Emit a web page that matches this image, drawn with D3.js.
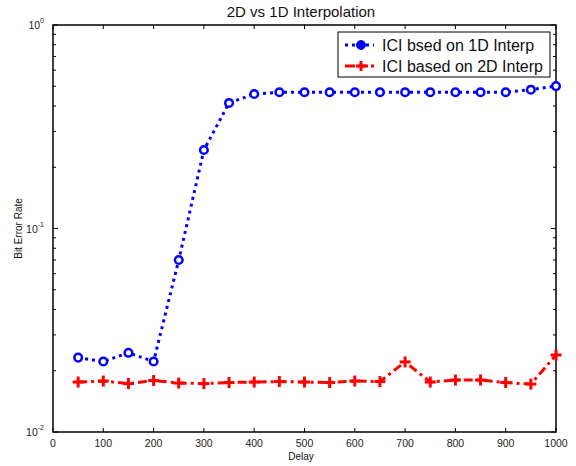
<!DOCTYPE html>
<html>
<head>
<meta charset="utf-8">
<script src="https://cdn.jsdelivr.net/npm/d3@7"></script>
<style>
  body { margin: 0; background: #fff; }
  svg { font-family: "Liberation Sans", Arial, sans-serif; }
</style>
</head>
<body>
<svg id="chart"></svg>
<script>
const delays = [50, 100, 150, 200, 250, 300, 350, 400, 450, 500, 550, 600, 650, 700, 750, 800, 850, 900, 950, 1000];
const ber1D = [0.0232, 0.0222, 0.0245, 0.0222, 0.0700, 0.243, 0.414, 0.458, 0.467, 0.467, 0.467, 0.467, 0.467, 0.467, 0.467, 0.467, 0.467, 0.467, 0.481, 0.501];
const ber2D = [0.0176, 0.0178, 0.0173, 0.0179, 0.0174, 0.0173, 0.0175, 0.0176, 0.0177, 0.0176, 0.0175, 0.0178, 0.0177, 0.0221, 0.0176, 0.0180, 0.0180, 0.0175, 0.0172, 0.0239];
const xTicks = [0, 100, 200, 300, 400, 500, 600, 700, 800, 900, 1000];
const yDecades = [-2, -1, 0];
const legendLabels = ["ICI bsed on 1D Interp", "ICI based on 2D Interp"];

const W = 576, H = 466;
const margin = { top: 25, right: 20, bottom: 34, left: 53 };
const width = W - margin.left - margin.right;
const height = H - margin.top - margin.bottom;

const svg = d3.select("#chart").attr("width", W).attr("height", H);
const g = svg.append("g").attr("transform", `translate(${margin.left},${margin.top})`);

const x = d3.scaleLinear().domain([0, 1000]).range([0, width]);
const y = d3.scaleLog().domain([0.01, 1]).range([height, 0]);

// minor log ticks
const minor = [];
[0.01, 0.1].forEach(base => {
  for (let k = 2; k <= 9; k++) minor.push(base * k);
});

// axes box
g.append("rect")
  .attr("width", width).attr("height", height)
  .attr("fill", "none").attr("stroke", "#000").attr("stroke-width", 1.5);

// x ticks (bottom and top, inward)
xTicks.forEach(t => {
  g.append("line").attr("x1", x(t)).attr("x2", x(t)).attr("y1", height).attr("y2", height - 4).attr("stroke", "#000");
  g.append("line").attr("x1", x(t)).attr("x2", x(t)).attr("y1", 0).attr("y2", 4).attr("stroke", "#000");
  g.append("text").attr("x", x(t)).attr("y", height + 15)
    .attr("text-anchor", "middle").attr("font-size", 10.5).attr("fill", "#222").text(t);
});

// y ticks
yDecades.forEach(p => {
  const v = Math.pow(10, p);
  g.append("line").attr("x1", 0).attr("x2", 5).attr("y1", y(v)).attr("y2", y(v)).attr("stroke", "#000");
  g.append("line").attr("x1", width).attr("x2", width - 5).attr("y1", y(v)).attr("y2", y(v)).attr("stroke", "#000");
  const t = g.append("text").attr("x", -9).attr("y", y(v) + 4)
    .attr("text-anchor", "end").attr("font-size", 10.5).attr("fill", "#222");
  t.append("tspan").text("10");
  t.append("tspan").attr("font-size", 7).attr("dy", -6).text(p);
});
minor.forEach(v => {
  g.append("line").attr("x1", 0).attr("x2", 3).attr("y1", y(v)).attr("y2", y(v)).attr("stroke", "#000");
  g.append("line").attr("x1", width).attr("x2", width - 3).attr("y1", y(v)).attr("y2", y(v)).attr("stroke", "#000");
});

// labels
svg.append("text").attr("x", 301).attr("y", 17)
  .attr("text-anchor", "middle").attr("font-size", 15).attr("fill", "#111").text("2D vs 1D Interpolation");
svg.append("text").attr("x", 301).attr("y", 460)
  .attr("text-anchor", "middle").attr("font-size", 10).attr("fill", "#111").text("Delay");
svg.append("text").attr("transform", `translate(22,${margin.top + height / 2}) rotate(-90)`)
  .attr("text-anchor", "middle").attr("font-size", 10).attr("fill", "#111").text("Bit Error Rate");

const line = d3.line().x(d => x(d[0])).y(d => y(d[1]));
const data1 = delays.map((d, i) => [d, ber1D[i]]);
const data2 = delays.map((d, i) => [d, ber2D[i]]);

const blue = "#0000ff", red = "#ff0000";

g.append("path").datum(data2).attr("d", line).attr("fill", "none")
  .attr("stroke", red).attr("stroke-width", 3).attr("stroke-dasharray", "9,4,3,4");
g.append("path").datum(data1).attr("d", line).attr("fill", "none")
  .attr("stroke", blue).attr("stroke-width", 3).attr("stroke-dasharray", "3,4");

const plus = (sel, cx, cy, s) => {
  sel.append("line").attr("x1", cx - s).attr("x2", cx + s).attr("y1", cy).attr("y2", cy).attr("stroke", red).attr("stroke-width", 3);
  sel.append("line").attr("x1", cx).attr("x2", cx).attr("y1", cy - s).attr("y2", cy + s).attr("stroke", red).attr("stroke-width", 3);
};
data2.forEach(d => plus(g, x(d[0]), y(d[1]), 5.5));

g.selectAll("circle.m").data(data1).enter().append("circle")
  .attr("cx", d => x(d[0])).attr("cy", d => y(d[1])).attr("r", 3.8)
  .attr("fill", "#fff").attr("stroke", blue).attr("stroke-width", 2.5);

// legend
const lg = svg.append("g").attr("transform", "translate(338,32)");
lg.append("rect").attr("width", 212).attr("height", 45).attr("fill", "#fff").attr("stroke", "#000").attr("stroke-width", 1);
lg.append("line").attr("x1", 7).attr("x2", 36).attr("y1", 13).attr("y2", 13)
  .attr("stroke", blue).attr("stroke-width", 3).attr("stroke-dasharray", "3,4");
lg.append("circle").attr("cx", 23).attr("cy", 13).attr("r", 4.5).attr("fill", blue).attr("stroke", blue);
lg.append("line").attr("x1", 7).attr("x2", 36).attr("y1", 34).attr("y2", 34)
  .attr("stroke", red).attr("stroke-width", 3).attr("stroke-dasharray", "10,3");
plus(lg, 23, 34, 5);
legendLabels.forEach((t, i) => {
  lg.append("text").attr("x", 44).attr("y", 19 + i * 21).attr("font-size", 16).attr("fill", "#111").text(t);
});
</script>
</body>
</html>
